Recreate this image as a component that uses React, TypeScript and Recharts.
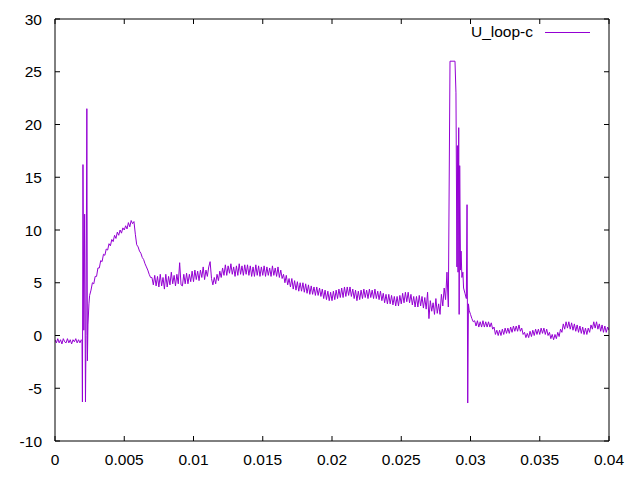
import React from 'react';
import { LineChart, Line, XAxis, YAxis } from 'recharts';

// time in milliseconds (axis shows seconds)
const timeMs: number[] = [
  0, 0.1, 0.2, 0.3, 0.4, 0.5, 0.6, 0.7, 0.8, 0.9,
  1.0, 1.1, 1.2, 1.3, 1.4, 1.5, 1.6, 1.7, 1.8, 1.9,
  1.95, 1.98, 2.02, 2.08, 2.14, 2.2, 2.24, 2.3, 2.34, 2.38, 2.45, 2.5,
  2.6, 2.7, 2.8, 2.9,
  3.0, 3.1, 3.2, 3.3, 3.4, 3.5, 3.6, 3.7, 3.8, 3.9,
  4.0, 4.1, 4.2, 4.3, 4.4, 4.5, 4.6, 4.7, 4.8, 4.9,
  5.0, 5.1, 5.2, 5.3, 5.4, 5.5, 5.6, 5.7, 5.8, 5.9,
  6.0, 6.1, 6.2, 6.3, 6.4, 6.5, 6.6, 6.7, 6.8, 6.9,
  7.0, 7.1, 7.2, 7.3, 7.4, 7.5, 7.6, 7.7, 7.8, 7.9,
  8.0, 8.1, 8.2, 8.3, 8.4, 8.5, 8.6, 8.7, 8.8, 8.9,
  9.0, 9.1, 9.2, 9.3, 9.4, 9.5, 9.6, 9.7, 9.8, 9.9,
  10.0, 10.1, 10.2, 10.3, 10.4, 10.5, 10.6, 10.7, 10.8, 10.9,
  11.0, 11.1, 11.2, 11.3, 11.4, 11.5, 11.6, 11.7, 11.8, 11.9,
  12.0, 12.1, 12.2, 12.3, 12.4, 12.5, 12.6, 12.7, 12.8, 12.9,
  13.0, 13.1, 13.2, 13.3, 13.4, 13.5, 13.6, 13.7, 13.8, 13.9,
  14.0, 14.1, 14.2, 14.3, 14.4, 14.5, 14.6, 14.7, 14.8, 14.9,
  15.0, 15.1, 15.2, 15.3, 15.4, 15.5, 15.6, 15.7, 15.8, 15.9,
  16.0, 16.1, 16.2, 16.3, 16.4, 16.5, 16.6, 16.7, 16.8, 16.9,
  17.0, 17.1, 17.2, 17.3, 17.4, 17.5, 17.6, 17.7, 17.8, 17.9,
  18.0, 18.1, 18.2, 18.3, 18.4, 18.5, 18.6, 18.7, 18.8, 18.9,
  19.0, 19.1, 19.2, 19.3, 19.4, 19.5, 19.6, 19.7, 19.8, 19.9,
  20.0, 20.1, 20.2, 20.3, 20.4, 20.5, 20.6, 20.7, 20.8, 20.9,
  21.0, 21.1, 21.2, 21.3, 21.4, 21.5, 21.6, 21.7, 21.8, 21.9,
  22.0, 22.1, 22.2, 22.3, 22.4, 22.5, 22.6, 22.7, 22.8, 22.9,
  23.0, 23.1, 23.2, 23.3, 23.4, 23.5, 23.6, 23.7, 23.8, 23.9,
  24.0, 24.1, 24.2, 24.3, 24.4, 24.5, 24.6, 24.7, 24.8, 24.9,
  25.0, 25.1, 25.2, 25.3, 25.4, 25.5, 25.6, 25.7, 25.8, 25.9,
  26.0, 26.1, 26.2, 26.3, 26.4, 26.5, 26.6, 26.7, 26.8, 26.9,
  27.0, 27.1, 27.2, 27.3, 27.4, 27.5, 27.6, 27.7, 27.8, 27.9,
  28.0, 28.1, 28.2, 28.3, 28.4,
  28.52, 28.88, 28.95, 29.02, 29.05, 29.1, 29.15, 29.18, 29.22, 29.28, 29.32, 29.38,
  29.45, 29.5, 29.6, 29.7, 29.75, 29.8, 29.85, 29.9, 30.0, 30.1, 30.2,
  30.3, 30.4, 30.5, 30.6, 30.7, 30.8, 30.9,
  31.0, 31.1, 31.2, 31.3, 31.4, 31.5, 31.6, 31.7, 31.8, 31.9,
  32.0, 32.1, 32.2, 32.3, 32.4, 32.5, 32.6, 32.7, 32.8, 32.9,
  33.0, 33.1, 33.2, 33.3, 33.4, 33.5, 33.6, 33.7, 33.8, 33.9,
  34.0, 34.1, 34.2, 34.3, 34.4, 34.5, 34.6, 34.7, 34.8, 34.9,
  35.0, 35.1, 35.2, 35.3, 35.4, 35.5, 35.6, 35.7, 35.8, 35.9,
  36.0, 36.1, 36.2, 36.3, 36.4, 36.5, 36.6, 36.7, 36.8, 36.9,
  37.0, 37.1, 37.2, 37.3, 37.4, 37.5, 37.6, 37.7, 37.8, 37.9,
  38.0, 38.1, 38.2, 38.3, 38.4, 38.5, 38.6, 38.7, 38.8, 38.9,
  39.0, 39.1, 39.2, 39.3, 39.4, 39.5, 39.6, 39.7, 39.8, 39.9,
  40.0,
];

const uLoopV: number[] = [
  -0.4, -0.7, -0.3, -0.7, -0.4, -0.8, -0.3, -0.6, -0.7, -0.3,
  -0.7, -0.4, -0.8, -0.4, -0.6, -0.3, -0.7, -0.4, -0.7, -0.4,
  -0.5, -6.3, 16.2, 0.5, 11.5, -6.3, 0.0, 21.5, -2.4, 1.0, 3.0, 3.8,
  4.3, 5.0, 4.9, 5.6,
  5.6, 6.4, 6.4, 7.1, 7.0, 7.7, 7.6, 8.2, 8.1, 8.7,
  8.5, 9.1, 8.9, 9.5, 9.2, 9.8, 9.5, 10.0, 9.7, 10.2,
  10.0, 10.4, 10.1, 10.7, 10.3, 10.9, 10.6, 10.8, 9.6, 8.6,
  8.4, 8.0, 7.8, 7.4, 7.2, 6.8, 6.5, 6.2, 5.8, 5.5,
  5.5, 4.8, 5.7, 4.7, 5.6, 4.6, 5.8, 4.7, 5.5, 4.4,
  5.8, 4.6, 5.6, 4.8, 6.0, 4.9, 5.7, 4.7, 5.8, 4.9,
  6.9, 4.8, 4.7, 5.8, 4.9, 5.9, 4.9, 5.8, 5.1, 6.1,
  5.1, 6.2, 5.3, 6.1, 5.2, 6.2, 5.5, 6.5, 5.3, 6.2,
  5.6, 6.5, 7.0, 5.4, 4.8, 5.5, 4.9, 5.8, 5.2, 6.1,
  5.5, 6.4, 5.7, 6.7, 5.7, 6.6, 5.9, 6.8, 5.8, 6.5,
  5.6, 6.6, 5.7, 6.8, 5.8, 6.6, 5.7, 6.7, 5.8, 6.7,
  5.7, 6.6, 5.6, 6.5, 5.6, 6.7, 5.7, 6.6, 5.6, 6.5,
  5.7, 6.6, 5.6, 6.5, 5.7, 6.4, 5.6, 6.6, 5.7, 6.4,
  5.6, 6.5, 5.5, 6.2, 5.4, 5.8, 5.0, 5.7, 4.8, 5.4,
  4.6, 5.4, 4.4, 5.2, 4.3, 5.1, 4.2, 5.0, 4.2, 5.0,
  4.1, 4.9, 4.0, 4.8, 3.9, 4.7, 3.9, 4.6, 3.8, 4.6,
  3.8, 4.5, 3.7, 4.4, 3.5, 4.3, 3.4, 4.2, 3.3, 4.1,
  3.3, 4.2, 3.4, 4.3, 3.5, 4.4, 3.6, 4.5, 3.6, 4.6,
  3.7, 4.6, 3.8, 4.6, 3.7, 4.4, 3.5, 4.3, 3.3, 4.2,
  3.4, 4.3, 3.5, 4.4, 3.6, 4.3, 3.5, 4.4, 3.6, 4.3,
  3.5, 4.4, 3.5, 4.2, 3.4, 4.2, 3.3, 4.0, 3.1, 3.9,
  3.0, 3.9, 3.0, 3.8, 2.9, 3.7, 2.8, 3.7, 2.8, 3.8,
  3.0, 4.0, 3.1, 4.1, 3.2, 4.1, 3.1, 3.9, 2.9, 3.7,
  2.7, 3.7, 2.7, 3.8, 2.8, 3.7, 2.6, 3.6, 2.5, 4.1,
  1.6, 3.3, 2.3, 3.1, 2.0, 3.5, 2.1, 3.0, 2.0, 3.9,
  2.8, 4.5, 3.4, 6.0, 2.7,
  26, 26, 23.0, 6.5, 18.0, 6.0, 19.7, 2.0, 16.1, 6.2, 8.0, 5.5,
  6.0, 4.5, 4.0, 3.5, 12.4, -6.4, 3.0, 2.4, 2.0, 1.6, 1.3,
  1.4, 0.9, 1.4, 0.8, 1.3, 0.8, 1.4,
  0.8, 1.3, 0.8, 1.3, 0.8, 1.2, 0.6, 0.8, 0.1, 0.5,
  0.0, 0.5, 0.0, 0.6, 0.1, 0.7, 0.2, 0.7, 0.2, 0.8,
  0.3, 0.9, 0.4, 0.9, 0.4, 1.0, 0.4, 0.7, 0.1, 0.3,
  -0.2, 0.2, -0.2, 0.4, -0.1, 0.5, 0.0, 0.6, 0.1, 0.6,
  0.1, 0.7, 0.2, 0.7, 0.1, 0.6, 0.0, 0.3, -0.3, 0.1,
  -0.4, 0.1, -0.3, 0.3, -0.1, 0.6, 0.3, 1.1, 0.6, 1.3,
  0.7, 1.3, 0.6, 1.2, 0.5, 1.1, 0.4, 1.0, 0.3, 0.9,
  0.2, 0.8, 0.1, 0.7, 0.1, 0.7, 0.3, 1.0, 0.6, 1.3,
  0.7, 1.3, 0.6, 1.1, 0.4, 1.0, 0.3, 0.9, 0.3, 0.8,
  0.5,
];

const xTicks = [0, 5, 10, 15, 20, 25, 30, 35, 40];
const xTickLabels = ['0', '0.005', '0.01', '0.015', '0.02', '0.025', '0.03', '0.035', '0.04'];
const yTicks = [-10, -5, 0, 5, 10, 15, 20, 25, 30];
const seriesName = 'U_loop-c';
const seriesColor = '#9400d3';

const data = timeMs.map((t, i) => ({ t, v: uLoopV[i] }));

const FONT = "'Liberation Sans', Arial, sans-serif";
const FS = 15.5;
const TICK = 5;

const BottomTick = (props: any) => {
  const { x, y, payload } = props;
  const idx = xTicks.indexOf(payload.value);
  return (
    <g>
      <line x1={x} x2={x} y1={y} y2={y - TICK} stroke="#000" strokeWidth={1} />
      <text x={x} y={y + 24} textAnchor="middle" fontSize={FS} fontFamily={FONT} fill="#000">
        {idx >= 0 ? xTickLabels[idx] : String(payload.value)}
      </text>
    </g>
  );
};

const TopTick = (props: any) => {
  const { x, y } = props;
  return <line x1={x} x2={x} y1={y} y2={y + TICK} stroke="#000" strokeWidth={1} />;
};

const LeftTick = (props: any) => {
  const { x, y, payload } = props;
  return (
    <g>
      <line x1={x} x2={x + TICK} y1={y} y2={y} stroke="#000" strokeWidth={1} />
      <text x={x - 13} y={y + 5.5} textAnchor="end" fontSize={FS} fontFamily={FONT} fill="#000">
        {String(payload.value)}
      </text>
    </g>
  );
};

const RightTick = (props: any) => {
  const { x, y } = props;
  return <line x1={x} x2={x - TICK} y1={y} y2={y} stroke="#000" strokeWidth={1} />;
};

export default function App() {
  return (
    <div style={{ position: 'absolute', left: 0, top: 0, width: 640, height: 480, background: '#fff' }}>
      <LineChart
        width={640}
        height={480}
        data={data}
        margin={{ top: 18, right: 30, bottom: 0, left: 0 }}
      >
        <XAxis
          xAxisId="bottom"
          dataKey="t"
          type="number"
          domain={[0, 40]}
          ticks={xTicks}
          interval={0}
          orientation="bottom"
          height={39}
          tickSize={0}
          tickMargin={0}
          tickLine={false}
          axisLine={{ stroke: '#000', strokeWidth: 1 }}
          tick={<BottomTick />}
          allowDataOverflow
        />
        <XAxis
          xAxisId="top"
          dataKey="t"
          type="number"
          domain={[0, 40]}
          ticks={xTicks}
          interval={0}
          orientation="top"
          height={1}
          tickSize={0}
          tickMargin={0}
          tickLine={false}
          axisLine={{ stroke: '#000', strokeWidth: 1 }}
          tick={<TopTick />}
          allowDataOverflow
        />
        <YAxis
          yAxisId="left"
          type="number"
          domain={[-10, 30]}
          ticks={yTicks}
          interval={0}
          orientation="left"
          width={55}
          tickSize={0}
          tickMargin={0}
          tickLine={false}
          axisLine={{ stroke: '#000', strokeWidth: 1 }}
          tick={<LeftTick />}
          allowDataOverflow
        />
        <YAxis
          yAxisId="right"
          type="number"
          domain={[-10, 30]}
          ticks={yTicks}
          interval={0}
          orientation="right"
          width={1}
          tickSize={0}
          tickMargin={0}
          tickLine={false}
          axisLine={{ stroke: '#000', strokeWidth: 1 }}
          tick={<RightTick />}
          allowDataOverflow
        />
        <Line
          xAxisId="bottom"
          yAxisId="left"
          type="linear"
          dataKey="v"
          name={seriesName}
          stroke={seriesColor}
          strokeWidth={1}
          dot={false}
          activeDot={false}
          isAnimationActive={false}
        />
      </LineChart>
      <svg
        width={640}
        height={60}
        style={{ position: 'absolute', left: 0, top: 0, pointerEvents: 'none' }}
      >
        <text x={533} y={37} textAnchor="end" fontSize={FS} fontFamily={FONT} fill="#000">
          {seriesName}
        </text>
        <line x1={545} x2={590} y1={32.5} y2={32.5} stroke={seriesColor} strokeWidth={1} />
      </svg>
    </div>
  );
}
